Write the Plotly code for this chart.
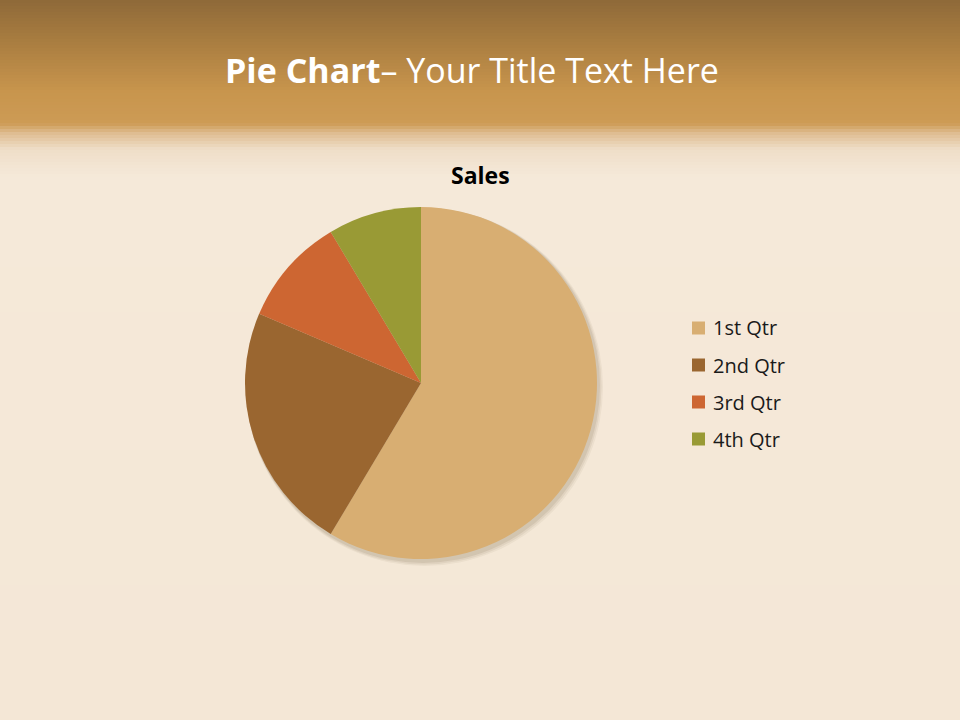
import plotly.graph_objects as go

categories = ["1st Qtr", "2nd Qtr", "3rd Qtr", "4th Qtr"]
sales = [8.2, 3.2, 1.4, 1.2]
slice_colors = ["#d8ae72", "#9a6630", "#cd6632", "#999a35"]

W, H = 960, 720

def hex2rgb(h):
    h = h.lstrip("#")
    return tuple(int(h[i:i+2], 16) for i in (0, 2, 4))

def lerp(c1, c2, t):
    return tuple(round(a + (b - a) * t) for a, b in zip(c1, c2))

# background gradient stops (pixel y, color)
stops = [(0, "#8f6a39"), (40, "#a97d40"), (90, "#c8954d"), (122, "#cd9b55"),
         (132, "#dfbd92"), (148, "#efdec8"), (175, "#f5e9d9"), (720, "#f4e7d6")]

shapes = []
step = 3
for y in range(0, H, step):
    col = hex2rgb(stops[-1][1])
    for i in range(len(stops) - 1):
        y0, c0 = stops[i]
        y1, c1 = stops[i + 1]
        if y0 <= y <= y1:
            t = (y - y0) / (y1 - y0) if y1 > y0 else 0
            col = lerp(hex2rgb(c0), hex2rgb(c1), t)
            break
    shapes.append(dict(type="rect", xref="paper", yref="paper",
                       x0=0, x1=1, y0=1 - (y + step + 1) / H, y1=1 - y / H,
                       fillcolor="rgb(%d,%d,%d)" % col, line=dict(width=0),
                       layer="below"))

# pie shadow
cx, cy, r = 421, 383, 176
for k, a in [(6, 0.05), (4.5, 0.07), (3, 0.09)]:
    shapes.append(dict(type="circle", xref="paper", yref="paper",
                       x0=(cx - r + 1) / W, x1=(cx + r + k) / W,
                       y0=1 - (cy + r + k + 1) / H, y1=1 - (cy - r + 1) / H,
                       fillcolor="rgba(80,55,25,%.2f)" % a, line=dict(width=0),
                       layer="below"))

fig = go.Figure()
fig.add_trace(go.Pie(
    labels=categories, values=sales, sort=False, direction="clockwise",
    rotation=0, marker=dict(colors=slice_colors, line=dict(width=0)),
    textinfo="none", hoverinfo="label+value", showlegend=False,
    domain=dict(x=[(cx - r) / W, (cx + r) / W], y=[1 - (cy + r) / H, 1 - (cy - r) / H]),
))

annotations = [
    dict(text="<b>Pie Chart</b>– Your Title Text Here", x=472 / W, y=1 - 70 / H,
         xref="paper", yref="paper", showarrow=False, xanchor="center", yanchor="middle",
         font=dict(family="Open Sans", size=34, color="white")),
    dict(text="<b>Sales</b>", x=480 / W, y=1 - 175 / H,
         xref="paper", yref="paper", showarrow=False, xanchor="center", yanchor="middle",
         font=dict(family="Open Sans", size=23, color="black")),
]

# legend (swatch + label) built from the category and colour lists
leg_x, leg_y0, leg_dy, sw = 692, 328, 37, 13
for i, (lab, col) in enumerate(zip(categories, slice_colors)):
    yc = leg_y0 + i * leg_dy
    shapes.append(dict(type="rect", xref="paper", yref="paper",
                       x0=leg_x / W, x1=(leg_x + sw) / W,
                       y0=1 - (yc + sw / 2) / H, y1=1 - (yc - sw / 2) / H,
                       fillcolor=col, line=dict(width=0)))
    annotations.append(dict(text=lab, x=(leg_x + sw + 6) / W, y=1 - yc / H,
                            xref="paper", yref="paper", showarrow=False,
                            xanchor="left", yanchor="middle",
                            font=dict(family="Open Sans", size=20, color="#1a1a1a")))

fig.update_layout(
    width=W, height=H, margin=dict(l=0, r=0, t=0, b=0),
    paper_bgcolor="#f4e7d6", plot_bgcolor="rgba(0,0,0,0)",
    shapes=shapes, showlegend=False, annotations=annotations,
)

fig.write_html("out.html", config={"displayModeBar": False},
               post_script="document.body.style.margin='0';document.body.style.overflow='hidden';")
